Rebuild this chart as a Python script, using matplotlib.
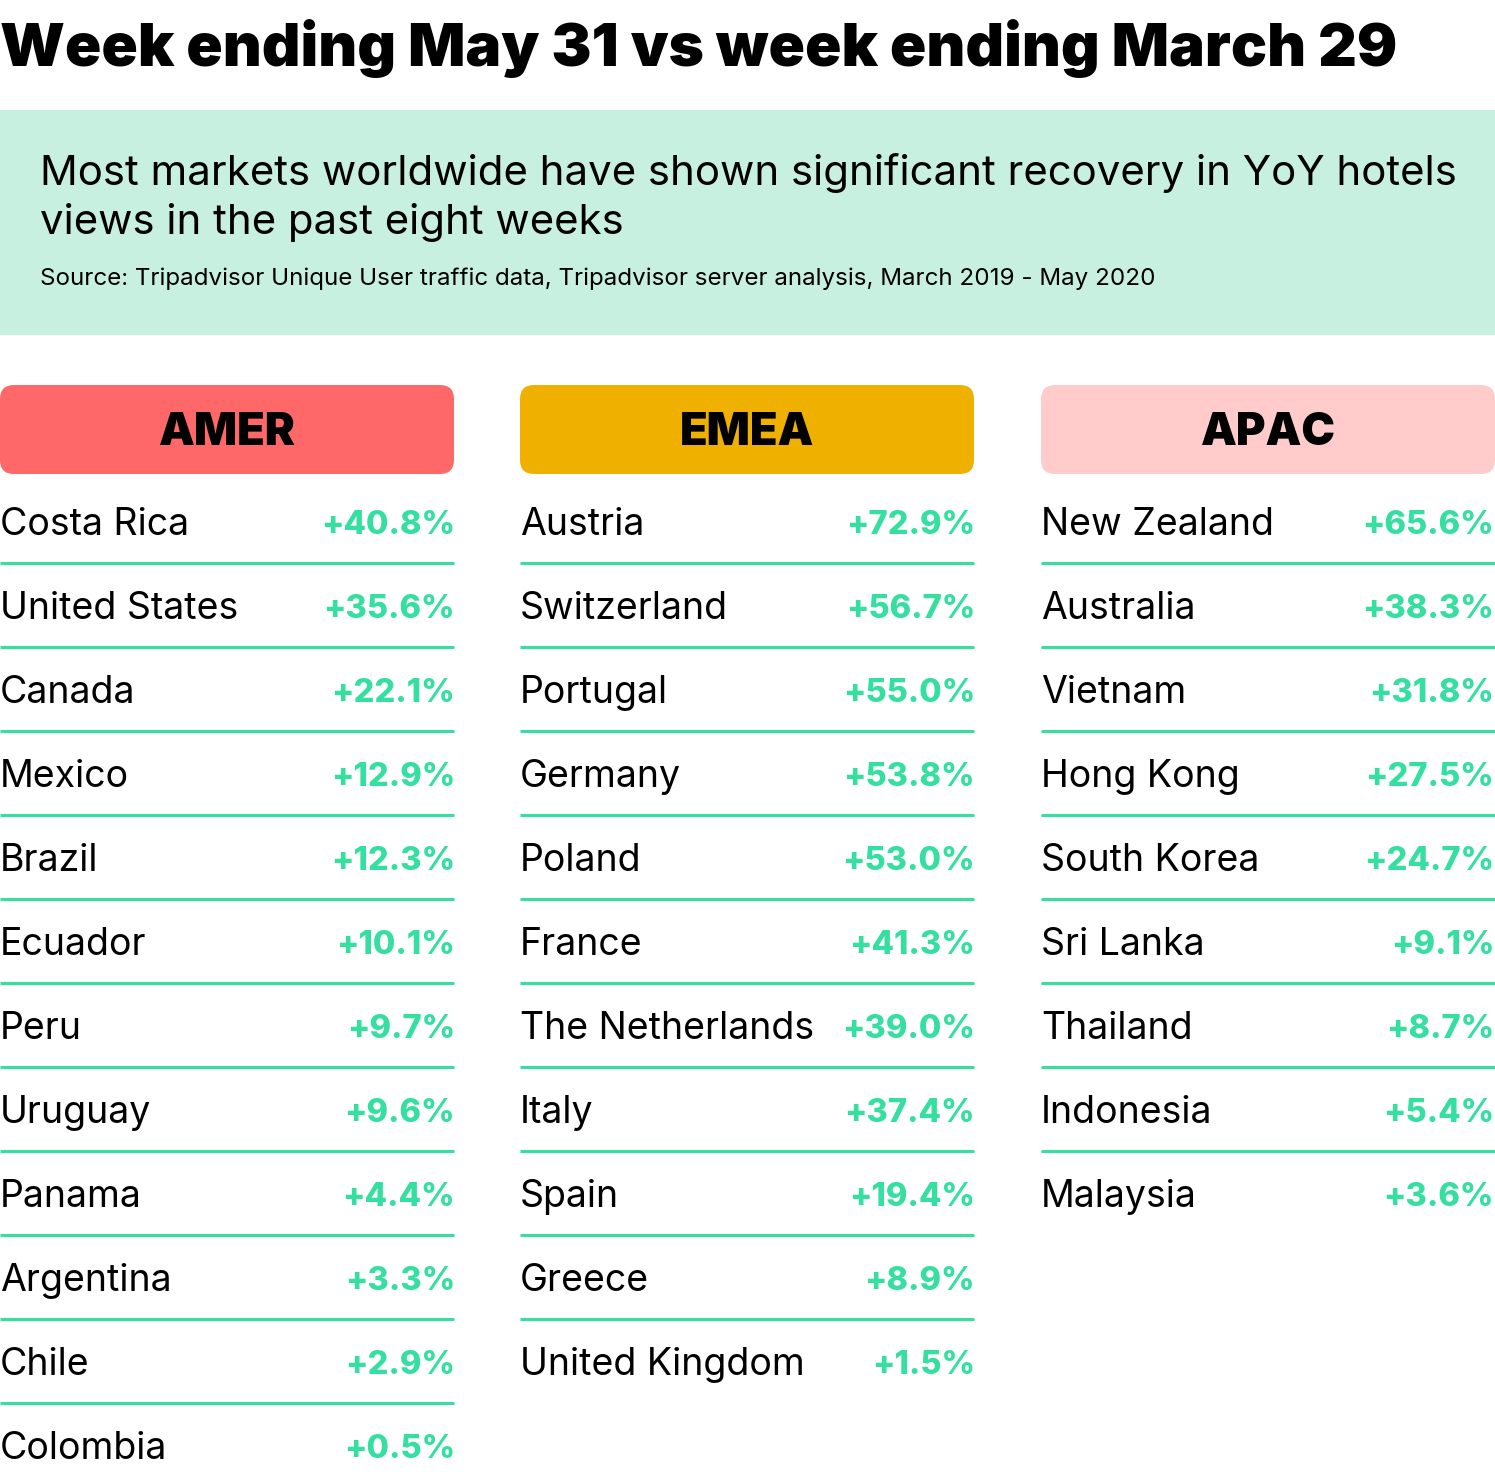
import matplotlib
matplotlib.use("Agg")
import matplotlib.pyplot as plt
from matplotlib.patches import FancyBboxPatch, Rectangle

# data
regions = ["AMER", "EMEA", "APAC"]
region_colors = ["#FF6868", "#F0B000", "#FFCCCB"]

amer_countries = ["Costa Rica", "United States", "Canada", "Mexico", "Brazil", "Ecuador",
                  "Peru", "Uruguay", "Panama", "Argentina", "Chile", "Colombia"]
amer_values = [40.8, 35.6, 22.1, 12.9, 12.3, 10.1, 9.7, 9.6, 4.4, 3.3, 2.9, 0.5]

emea_countries = ["Austria", "Switzerland", "Portugal", "Germany", "Poland", "France",
                  "The Netherlands", "Italy", "Spain", "Greece", "United Kingdom"]
emea_values = [72.9, 56.7, 55.0, 53.8, 53.0, 41.3, 39.0, 37.4, 19.4, 8.9, 1.5]

apac_countries = ["New Zealand", "Australia", "Vietnam", "Hong Kong", "South Korea",
                  "Sri Lanka", "Thailand", "Indonesia", "Malaysia"]
apac_values = [65.6, 38.3, 31.8, 27.5, 24.7, 9.1, 8.7, 5.4, 3.6]

title = "Week ending May 31 vs week ending March 29"
subtitle = "Most markets worldwide have shown significant recovery in YoY hotels\nviews in the past eight weeks"
source = "Source: Tripadvisor Unique User traffic data, Tripadvisor server analysis, March 2019 - May 2020"

FONT = "Inter"
GREEN = "#34DFA0"
W, H = 1495, 1472

fig = plt.figure(figsize=(W / 100, H / 100), dpi=100)
ax = fig.add_axes([0, 0, 1, 1])
ax.set_xlim(0, W)
ax.set_ylim(H, 0)
ax.axis("off")

ax.text(0, 49, title, fontsize=43.2, fontweight="black", family=FONT,
        va="center", ha="left", color="black")

# green band with subtitle + source
ax.add_patch(Rectangle((0, 110), W, 225, color="#C8F0E1", lw=0))
for k, line in enumerate(subtitle.split("\n")):
    ax.text(40, 173 + 50 * k, line, fontsize=30.2, family=FONT, va="center", ha="left",
            color="black")
ax.text(40, 279, source, fontsize=17.4, family=FONT, va="center", ha="left", color="black")

col_left = [0, 520, 1041]
col_w = 454
columns = [(amer_countries, amer_values), (emea_countries, emea_values),
           (apac_countries, apac_values)]

for x0, name, color, (countries, values) in zip(col_left, regions, region_colors, columns):
    ax.add_patch(FancyBboxPatch((x0, 385), col_w, 89, boxstyle="round,pad=0,rounding_size=14",
                                fc=color, ec="none"))
    ax.text(x0 + col_w / 2, 433, name, fontsize=32.5, fontweight="black", family=FONT,
            ha="center", va="center", color="black")
    for i, (c, v) in enumerate(zip(countries, values)):
        y = 525 + 84 * i
        ax.text(x0, y, c, fontsize=27, family=FONT, ha="left", va="center", color="black")
        ax.text(min(x0 + col_w + 1, W - 1), y, f"+{v:.1f}%", fontsize=23.5, fontweight="heavy",
                family=FONT, ha="right", va="center", color=GREEN)
        if i < len(countries) - 1:
            ax.plot([x0, x0 + col_w], [y + 38, y + 38], color=GREEN, lw=2.2,
                    solid_capstyle="butt")

fig.savefig("out.png", dpi=100)
